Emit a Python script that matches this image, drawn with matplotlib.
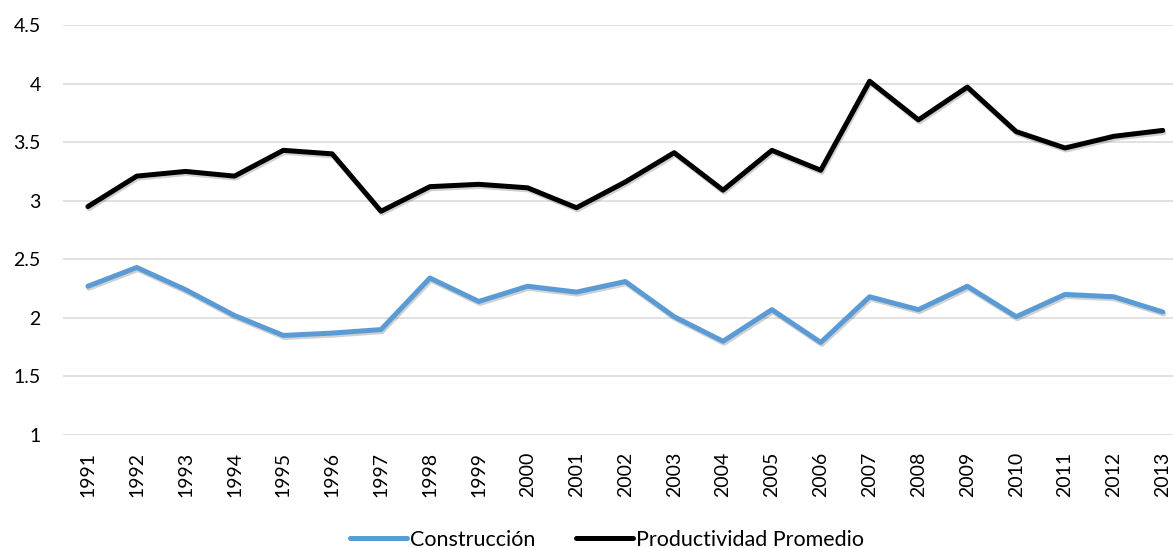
import numpy as np
import matplotlib.pyplot as plt
import matplotlib.patheffects as pe

years = [str(y) for y in range(1991, 2014)]
construccion = [2.27, 2.43, 2.24, 2.02, 1.85, 1.87, 1.90, 2.34, 2.14, 2.27, 2.22,
                2.31, 2.01, 1.80, 2.07, 1.79, 2.18, 2.07, 2.27, 2.01, 2.20, 2.18, 2.05]
productividad = [2.95, 3.21, 3.25, 3.21, 3.43, 3.40, 2.91, 3.12, 3.14, 3.11, 2.94,
                 3.16, 3.41, 3.09, 3.43, 3.26, 4.02, 3.69, 3.97, 3.59, 3.45, 3.55, 3.60]
yticks = [1, 1.5, 2, 2.5, 3, 3.5, 4, 4.5]

plt.rcParams['font.family'] = ['Lato', 'DejaVu Sans']

fig = plt.figure(figsize=(11.73, 5.48), dpi=100)
ax = fig.add_axes([63 / 1173, 113 / 548, 1110 / 1173, 410 / 548])

x = np.arange(len(years))
shadow = [pe.SimpleLineShadow(offset=(0.8, -1.5), alpha=0.18, shadow_color='k'), pe.Normal()]
ax.plot(x, construccion, color='#5B9BD5', lw=3.6, solid_capstyle='round',
        label='Construcción', path_effects=shadow, zorder=3)
ax.plot(x, productividad, color='#000000', lw=3.6, solid_capstyle='round',
        label='Productividad Promedio', path_effects=shadow, zorder=3)

ax.set_xlim(-0.51, 22.21)
ax.set_ylim(1, 4.5)
ax.set_xticks(x)
ax.set_xticklabels(years, rotation=90, fontsize=14, va='top')
ax.set_yticks(yticks)
ax.set_yticklabels([f'{v:g}' for v in yticks], fontsize=14)
ax.tick_params(axis='x', length=0, pad=12)
ax.tick_params(axis='y', length=0, pad=16)
ax.grid(axis='y', color='#D9D9D9', lw=1.1)
ax.set_axisbelow(True)
for s in ax.spines.values():
    s.set_visible(False)

leg = fig.legend(loc='center', bbox_to_anchor=(607 / 1173, 1 - 540 / 548), ncol=2,
                 frameon=False, fontsize=15.5, handlelength=2.65, handletextpad=0.15,
                 columnspacing=1.85, borderpad=0)
for h in leg.get_lines():
    h.set_linewidth(3.6)
    h.set_path_effects([])

fig.savefig('out.png', dpi=100)
